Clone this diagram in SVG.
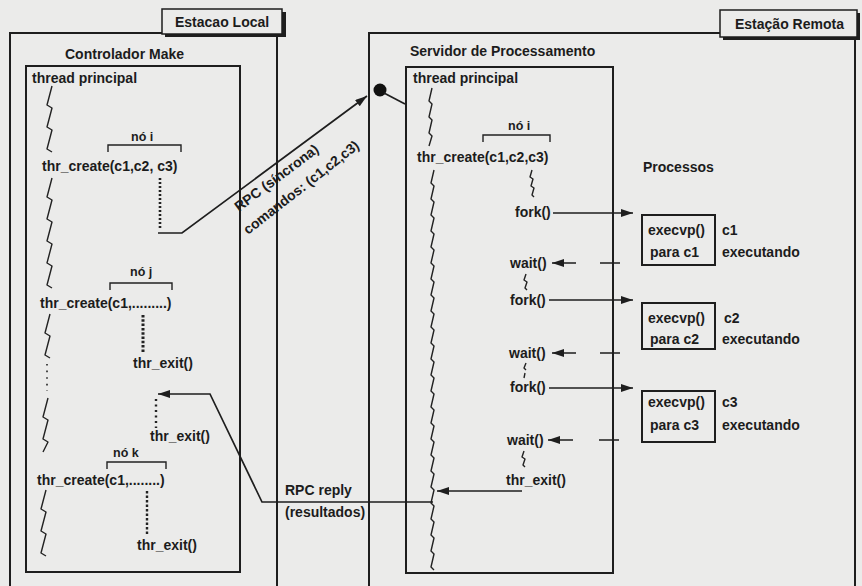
<svg xmlns="http://www.w3.org/2000/svg" width="862" height="586" viewBox="0 0 862 586">
  <defs>
    <style>
      .bg { fill: #ebebea; }
      .box { fill: none; stroke: #1e1e1e; stroke-width: 2; }
      .lbl { fill: #ebebea; stroke: #1e1e1e; stroke-width: 1.5; }
      .shadow { fill: #1e1e1e; }
      text { font-family: "Liberation Sans", Arial, sans-serif; font-weight: bold; font-size: 14px; fill: #1c1c1c; }
      .small { font-size: 12.5px; }
      .zz { fill: none; stroke: #222; stroke-width: 1.4; stroke-linejoin: round; }
      .ln { fill: none; stroke: #1e1e1e; stroke-width: 1.7; }
      .brk { fill: none; stroke: #222; stroke-width: 1.4; }
      .dots { fill: none; stroke: #222; stroke-width: 2.6; stroke-dasharray: 2 2; }
      .arr { marker-end: url(#head); }
    </style>
    <marker id="head" markerWidth="13" markerHeight="9" refX="12" refY="4" orient="auto" markerUnits="userSpaceOnUse">
      <path d="M0 0 L12 4 L0 8 z" fill="#1e1e1e"/>
    </marker>
  </defs>

  <rect class="bg" x="0" y="0" width="862" height="586"/>

  <!-- Local station -->
  <g id="estacao-local">
    <rect class="box" x="10" y="33" width="267" height="570"/>
    <rect class="shadow" x="165" y="12" width="121" height="25"/>
    <rect class="lbl" x="162" y="9" width="120" height="25"/>
    <text x="175" y="27">Estacao Local</text>
  </g>

  <!-- Make controller with its threads -->
  <g id="controlador-make">
    <rect class="box" x="26" y="66" width="214" height="506"/>
    <text x="65" y="59">Controlador Make</text>
    <text x="32" y="83">thread principal</text>
    <path class="zz" d="M52 86 l-5 19 l5 3 l-5 19 l5 3 l-5 19 l5 3"/>
    <!-- node i -->
    <text class="small" x="131" y="141">nó i</text>
    <path class="brk" d="M108 152 V145 H181 V152"/>
    <text x="42" y="171">thr_create(c1,c2, c3)</text>
    <path class="dots" d="M160 178 V229"/>
    <path class="zz" d="M52 178 l-5 19 l5 3 l-5 19 l5 3 l-5 19 l5 3 l-5 19 l5 3 l-5 19 l5 3"/>
    <!-- node j -->
    <text class="small" x="130" y="276">nó j</text>
    <path class="brk" d="M110 290 V283 H172 V290"/>
    <text x="40" y="308">thr_create(c1,.........)</text>
    <path class="dots" d="M143 315 V353" style="stroke-width:3;stroke-dasharray:2.5 1.8"/>
    <text x="133" y="368">thr_exit()</text>
    <path class="zz" d="M50 314 l-5 19 l5 3 l-5 19 l5 3"/>
    <path class="dots" d="M47 364 V391" style="stroke-width:1.6;stroke-dasharray:1.6 5"/>
    <path class="zz" d="M48 398 l-5 19 l5 3 l-5 19 l5 3 l-5 10"/>
    <!-- reply wait -->
    <path class="dots" d="M156 399 V428" style="stroke-width:2.4;stroke-dasharray:2 3.5"/>
    <text x="150" y="441">thr_exit()</text>
    <!-- node k -->
    <text class="small" x="113" y="457">nó k</text>
    <path class="brk" d="M107 469 V462 H166 V469"/>
    <text x="37" y="485">thr_create(c1,........)</text>
    <path class="dots" d="M147 491 V536" style="stroke-width:2.4;stroke-dasharray:2.5 2"/>
    <text x="137" y="550">thr_exit()</text>
    <path class="zz" d="M46 490 l-5 19 l5 3 l-5 19 l5 3 l-5 19 l5 3"/>
  </g>

  <!-- Remote station -->
  <g id="estacao-remota">
    <rect class="box" x="369" y="33" width="486" height="570"/>
    <rect class="shadow" x="723" y="13" width="137" height="27"/>
    <rect class="lbl" x="720" y="10" width="137" height="27"/>
    <text x="735" y="29">Estação Remota</text>
    <circle cx="380" cy="90" r="6.5" fill="#111"/>
    <path class="ln" d="M384 93 L405 104"/>
  </g>

  <!-- Processing server -->
  <g id="servidor">
    <rect class="box" x="406" y="67" width="207" height="506"/>
    <text x="410" y="56">Servidor de Processamento</text>
    <text x="413" y="83">thread principal</text>
    <path class="zz" d="M432 88 l-3 13 l3 3 l-3 13 l3 3 l-3 13 l3 3 l-3 10"/>
    <text class="small" x="508" y="130">nó i</text>
    <path class="brk" d="M483 142 V135 H550 V142"/>
    <text x="417" y="162">thr_create(c1,c2,c3)</text>
    <path class="zz" d="M434 170 l-3 13 l3 3 l-3 13 l3 3 l-3 13 l3 3 l-3 13 l3 3 l-3 13 l3 3 l-3 13 l3 3 l-3 13 l3 3 l-3 13 l3 3 l-3 13 l3 3 l-3 13 l3 3 l-3 13 l3 3 l-3 13 l3 3 l-3 13 l3 3 l-3 13 l3 3 l-3 13 l3 3 l-3 13 l3 3 l-3 13 l3 3 l-3 13 l3 3 l-3 13 l3 3 l-3 13 l3 3 l-3 13 l3 3 l-3 13 l3 3 l-3 13 l3 3 l-3 13 l3 3 l-3 13 l3 3"/>
    <path class="zz" d="M532 170 l-2 7 l3 2 l-2 7 l3 2 l-2 7 l2 2"/>
    <text x="515" y="217">fork()</text>
    <text x="510" y="268">wait()</text>
    <path class="zz" d="M526 274 l-2 6 l3 2 l-2 6 l2 2"/>
    <text x="510" y="305">fork()</text>
    <text x="509" y="358">wait()</text>
    <path class="zz" d="M526 363 l-2 5 l2 2 M525 373 l-1 5"/>
    <text x="510" y="392">fork()</text>
    <text x="507" y="445">wait()</text>
    <path class="zz" d="M524 451 l-2 6 l3 2 l-2 6 l2 2"/>
    <text x="506" y="485">thr_exit()</text>
  </g>

  <!-- Child processes -->
  <g id="processos">
    <text x="643" y="172">Processos</text>
  </g>
  <g id="proc-c1">
    <rect class="box" x="642" y="215" width="73" height="50"/>
    <text x="648" y="235">execvp()</text>
    <text x="650" y="257">para c1</text>
    <text x="722" y="235">c1</text>
    <text x="722" y="257">executando</text>
  </g>
  <g id="proc-c2">
    <rect class="box" x="642" y="303" width="73" height="46"/>
    <text x="648" y="323">execvp()</text>
    <text x="650" y="344">para c2</text>
    <text x="724" y="323">c2</text>
    <text x="722" y="344">executando</text>
  </g>
  <g id="proc-c3">
    <rect class="box" x="642" y="391" width="73" height="51"/>
    <text x="648" y="407">execvp()</text>
    <text x="650" y="430">para c3</text>
    <text x="722" y="407">c3</text>
    <text x="722" y="430">executando</text>
  </g>

  <!-- Connectors -->
  <g id="connectors">
    <!-- synchronous RPC carrying the commands -->
    <path class="ln arr" d="M158 233 H182 L367 96"/>
    <text transform="translate(239,212) rotate(-37)">RPC (síncrona)</text>
    <text transform="translate(248,235) rotate(-38)">comandos: (c1,c2,c3)</text>
    <!-- RPC reply with results -->
    <path class="ln arr" d="M433 502 H262 L210 394 H158"/>
    <text x="285" y="495">RPC reply</text>
    <text x="285" y="517">(resultados)</text>
    <!-- fork / wait -->
    <path class="ln arr" d="M553 213 H633"/>
    <path class="ln arr" d="M620 263 H552" style="stroke-dasharray:20 24 40"/>
    <path class="ln arr" d="M549 300 H633"/>
    <path class="ln arr" d="M620 353 H552" style="stroke-dasharray:20 24 40"/>
    <path class="ln arr" d="M549 388 H633"/>
    <path class="ln arr" d="M619 440 H548" style="stroke-dasharray:20 26 40"/>
    <path class="ln arr" d="M522 491 H437"/>
  </g>
</svg>
